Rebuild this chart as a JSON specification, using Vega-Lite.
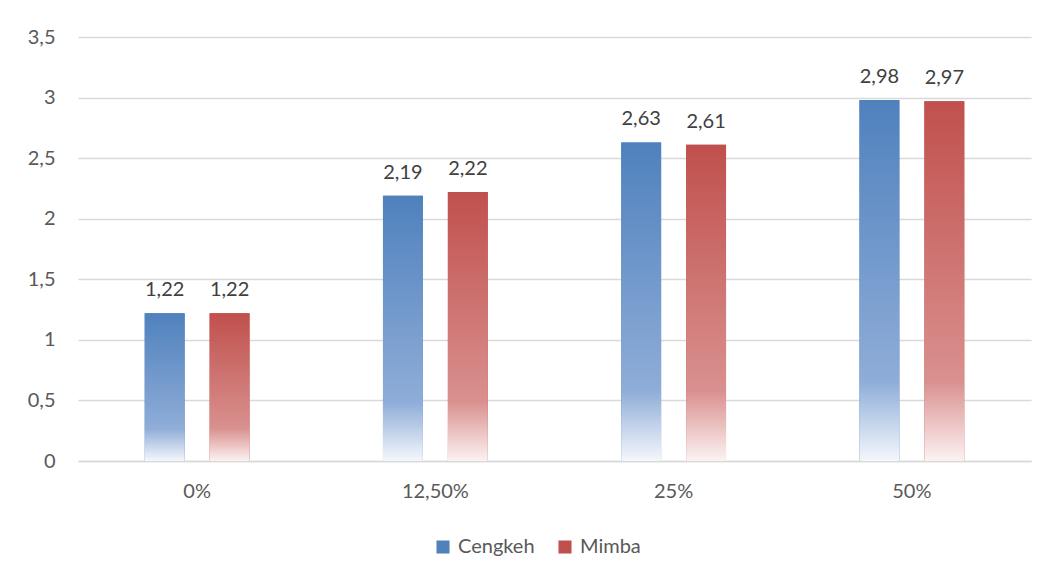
{
  "$schema": "https://vega.github.io/schema/vega-lite/v6.json",
  "autosize": {"type": "none"},
  "width": 953,
  "height": 424,
  "padding": {"left": 78, "top": 37, "right": 18, "bottom": 120},
  "background": "white",
  "data": {
    "values": [
      {"konsentrasi": "0%", "series": "Cengkeh", "value": 1.22},
      {"konsentrasi": "0%", "series": "Mimba", "value": 1.22},
      {"konsentrasi": "12,50%", "series": "Cengkeh", "value": 2.19},
      {"konsentrasi": "12,50%", "series": "Mimba", "value": 2.22},
      {"konsentrasi": "25%", "series": "Cengkeh", "value": 2.63},
      {"konsentrasi": "25%", "series": "Mimba", "value": 2.61},
      {"konsentrasi": "50%", "series": "Cengkeh", "value": 2.98},
      {"konsentrasi": "50%", "series": "Mimba", "value": 2.97}
    ]
  },
  "config": {
    "locale": {"number": {"decimal": ",", "thousands": ".", "grouping": [3], "currency": ["", ""]}},
    "font": "Lato",
    "view": {"stroke": null}
  },
  "encoding": {
    "x": {
      "field": "konsentrasi",
      "type": "nominal",
      "sort": ["0%", "12,50%", "25%", "50%"],
      "scale": {"paddingInner": 0.56, "paddingOuter": 0.28},
      "axis": {
        "title": null,
        "labelAngle": 0,
        "labelFontSize": 20,
        "labelColor": "#595959",
        "labelPadding": 20,
        "ticks": false,
        "domainColor": "#D9D9D9",
        "domainWidth": 1.5,
        "grid": false
      }
    },
    "xOffset": {
      "field": "series",
      "type": "nominal",
      "sort": ["Cengkeh", "Mimba"],
      "scale": {"domain": ["Cengkeh", "Mimba"], "paddingInner": 0.385, "paddingOuter": 0}
    },
    "y": {
      "field": "value",
      "type": "quantitative",
      "scale": {"domain": [0, 3.5], "nice": false},
      "axis": {
        "title": null,
        "values": [0, 0.5, 1, 1.5, 2, 2.5, 3, 3.5],
        "format": "~g",
        "labelFontSize": 20,
        "labelColor": "#595959",
        "labelPadding": 23,
        "ticks": false,
        "domain": false,
        "gridColor": "#D9D9D9",
        "gridWidth": 1.3
      }
    }
  },
  "layer": [
    {
      "mark": {"type": "bar"},
      "encoding": {
        "color": {
          "field": "series",
          "type": "nominal",
          "scale": {"domain": ["Cengkeh", "Mimba"], "range": ["#4F81BD", "#C0504D"]},
          "legend": {
            "title": null,
            "orient": "none",
            "legendX": 355,
            "legendY": 500,
            "direction": "horizontal",
            "symbolType": "square",
            "symbolSize": 170,
            "labelFontSize": 20,
            "labelColor": "#595959",
            "labelOffset": 5,
            "columnPadding": 20
          }
        }
      }
    },
    {
      "transform": [{"filter": "datum.series === 'Cengkeh'"}],
      "mark": {
        "type": "bar",
        "color": {"gradient": "linear", "x1": 0, "y1": 0, "x2": 0, "y2": 1, "stops": [
          {"offset": 0, "color": "#4F81BD"},
          {"offset": 0.78, "color": "#8FADD8"},
          {"offset": 1, "color": "#F4F7FC"}
        ]}
      }
    },
    {
      "transform": [{"filter": "datum.series === 'Mimba'"}],
      "mark": {
        "type": "bar",
        "color": {"gradient": "linear", "x1": 0, "y1": 0, "x2": 0, "y2": 1, "stops": [
          {"offset": 0, "color": "#C0504D"},
          {"offset": 0.78, "color": "#D9918F"},
          {"offset": 1, "color": "#FCF2F2"}
        ]}
      }
    },
    {
      "mark": {"type": "text", "baseline": "alphabetic", "dy": -17, "fontSize": 20, "color": "#404040"},
      "encoding": {
        "text": {"field": "value", "type": "quantitative", "format": ".2f"}
      }
    }
  ]
}
